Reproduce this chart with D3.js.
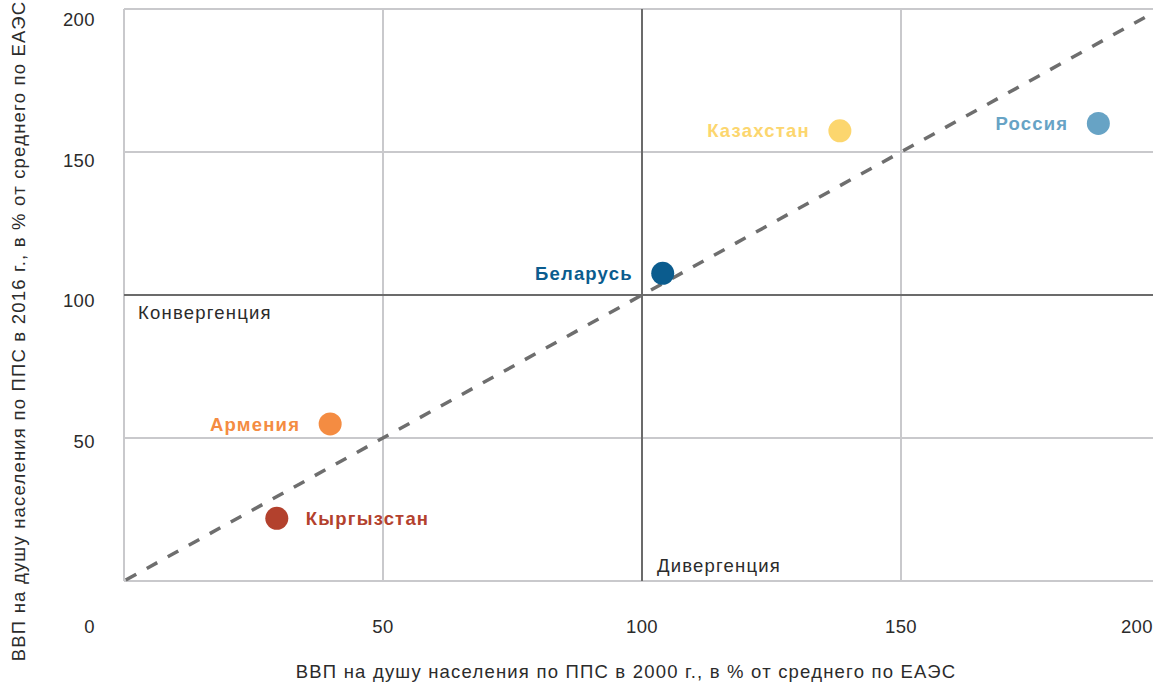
<!DOCTYPE html>
<html><head><meta charset="utf-8">
<script src="https://cdn.jsdelivr.net/npm/d3@7/dist/d3.min.js"></script>
<style>
html,body{margin:0;padding:0;background:#fff;}
svg{display:block;font-family:"Liberation Sans",Arial,Helvetica,sans-serif;}
</style></head>
<body>
<svg id="chart" width="1153" height="683"></svg>
<script>
const countries = ["Кыргызстан","Армения","Беларусь","Казахстан","Россия"];
const gdp2000 = [29.5, 39.8, 104.0, 138.2, 188.1];
const gdp2016 = [21.9, 54.9, 107.6, 157.4, 160.0];
const colors = ["#b3412d","#f48c42","#0b5c8e","#fcd66e","#67a3c5"];
const labelSide = ["right","left","left","left","left"];
const xTicks = [50,100,150,200];
const yTicks = [50,100,150,200];
const gridVals = [50,150];
const xTitle = "ВВП на душу населения по ППС в 2000 г., в % от среднего по ЕАЭС";
const yTitle = "ВВП на душу населения по ППС в 2016 г., в % от среднего по ЕАЭС";
const zoneLabels = ["Конвергенция","Дивергенция"];

const W = 1153, H = 683;
const svg = d3.select("#chart");
svg.append("rect").attr("width",W).attr("height",H).attr("fill","#fff");

const x = d3.scaleLinear().domain([0,200]).range([124,1160]);
const y = d3.scaleLinear().domain([0,200]).range([581,9]);
const yLab = d3.scaleLinear().domain([0,200]).range([582,19.5]);

const FS = 18.5;
const LS = 1.2;   // letter spacing for words
const LSD = 0.4;  // letter spacing for digits
const textCol = "#2b2b2b";
const gridCol = "#c9c9cc";
const refCol = "#6b6b6b";

// plot border + grid
const g = svg.append("g");
g.selectAll(".vg").data([0, ...gridVals]).enter().append("line")
  .attr("x1",d=>x(d)).attr("x2",d=>x(d)).attr("y1",y(0)).attr("y2",y(200))
  .attr("stroke",gridCol).attr("stroke-width",2);
g.selectAll(".hg").data([0, ...gridVals, 200]).enter().append("line")
  .attr("x1",x(0)).attr("x2",x(200)).attr("y1",d=>y(d)).attr("y2",d=>y(d))
  .attr("stroke",gridCol).attr("stroke-width",2);

// reference lines at 100
g.append("line").attr("x1",x(100)).attr("x2",x(100)).attr("y1",y(0)).attr("y2",y(200))
  .attr("stroke",refCol).attr("stroke-width",2);
g.append("line").attr("x1",x(0)).attr("x2",x(200)).attr("y1",y(100)).attr("y2",y(100))
  .attr("stroke",refCol).attr("stroke-width",2);

// diagonal dashed
g.append("line").attr("x1",x(0)).attr("y1",y(0)).attr("x2",x(200)).attr("y2",y(200))
  .attr("stroke","#6e6e6e").attr("stroke-width",3.5).attr("stroke-dasharray","12,12")
  .attr("stroke-dashoffset",-2);

// tick labels
const xl = svg.append("g").attr("font-size",FS).attr("fill",textCol).attr("letter-spacing",LSD);
xl.selectAll("text").data(xTicks).enter().append("text")
  .attr("x",d=>Math.min(x(d), W))
  .attr("y",633)
  .attr("text-anchor",d=>x(d) > W-20 ? "end" : "middle")
  .text(d=>d);
const yl = svg.append("g").attr("font-size",FS).attr("fill",textCol).attr("letter-spacing",LSD);
yl.selectAll("text").data(yTicks).enter().append("text")
  .attr("x",95).attr("y",d=>yLab(d)).attr("dy","0.36em")
  .attr("text-anchor","end").text(d=>d);
yl.append("text").attr("x",95).attr("y",633).attr("text-anchor","end").text(0);

// zone labels
svg.append("text").attr("x",x(0)+14).attr("y",y(100)+24).attr("font-size",FS).attr("letter-spacing",LS).attr("fill",textCol).text(zoneLabels[0]);
svg.append("text").attr("x",x(100)+15).attr("y",y(0)-9).attr("font-size",FS).attr("letter-spacing",LS).attr("fill",textCol).text(zoneLabels[1]);

// axis titles
svg.append("text").attr("x",626).attr("y",678).attr("text-anchor","middle")
  .attr("font-size",FS).attr("letter-spacing",LS).attr("fill",textCol).text(xTitle);
svg.append("text").attr("transform","translate(25,331) rotate(-90)").attr("text-anchor","middle")
  .attr("font-size",FS).attr("letter-spacing",LS).attr("fill",textCol).text(yTitle);

// points
const pts = countries.map((c,i)=>({c, x:gdp2000[i], y:gdp2016[i], col:colors[i], side:labelSide[i]}));
const pg = svg.append("g");
pg.selectAll("circle").data(pts).enter().append("circle")
  .attr("cx",d=>x(d.x)).attr("cy",d=>y(d.y)).attr("r",11.5).attr("fill",d=>d.col);
pg.selectAll("text").data(pts).enter().append("text")
  .attr("x",d=>x(d.x) + (d.side==="left" ? -30 : 29))
  .attr("y",d=>y(d.y)).attr("dy","0.36em")
  .attr("text-anchor",d=>d.side==="left" ? "end" : "start")
  .attr("font-size",FS).attr("letter-spacing",LS).attr("font-weight","bold").attr("fill",d=>d.col)
  .text(d=>d.c);
</script>
</body></html>
